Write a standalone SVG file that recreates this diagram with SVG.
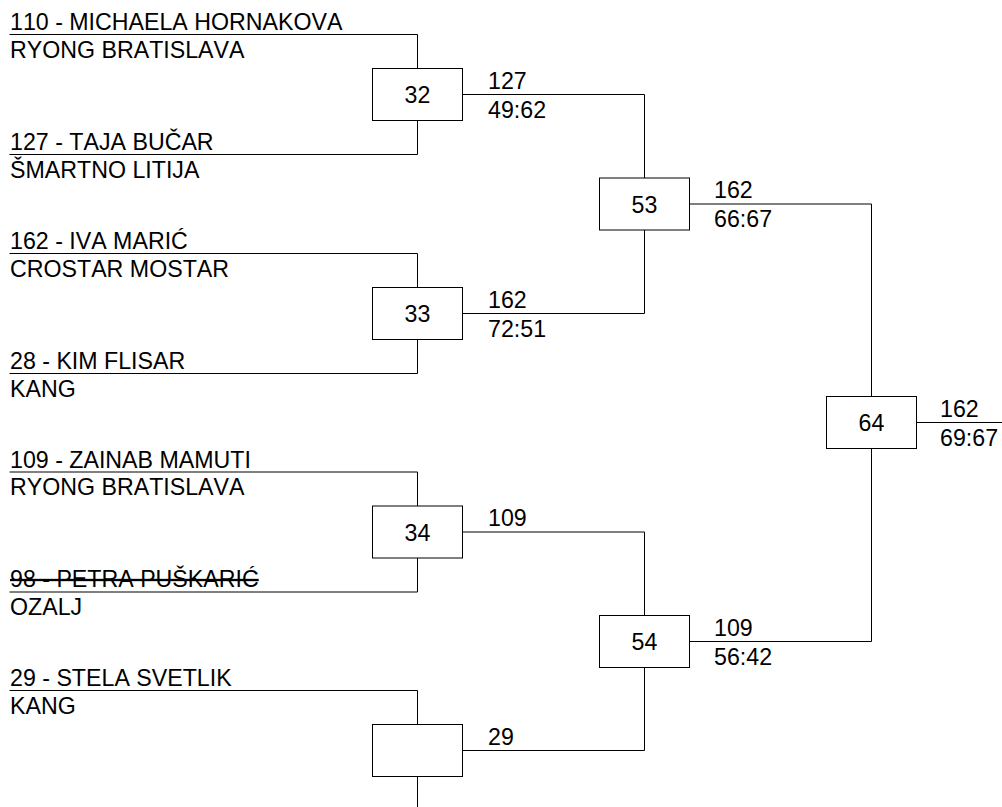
<svg xmlns="http://www.w3.org/2000/svg" width="1002" height="807" viewBox="0 0 1002 807">
<style>
text{font-family:"Liberation Sans",Arial,sans-serif;font-size:23.2px;fill:#000;font-kerning:none}
.num{text-anchor:middle}
.box{fill:#fff;stroke:#000;stroke-width:1}
.ln{fill:none;stroke:#000;stroke-width:1}
.strike{text-decoration:line-through}
</style>
<rect width="1002" height="807" fill="#fff"/>
<g id="connectors">
<path class="ln" d="M9.5 34.5H417.5V68.5M9.5 154.5H417.5V120.5"/>
<path class="ln" d="M9.5 253.5H417.5V287.5M9.5 373.5H417.5V339.5"/>
<path class="ln" d="M9.5 472H417.5V506M9.5 592H417.5V558"/>
<path class="ln" d="M9.5 690.5H417.5V724.5M417.5 776.5V810"/>
<path class="ln" d="M462.5 94.5H644.5V178M462.5 313.5H644.5V230"/>
<path class="ln" d="M462.5 532H644.5V615.5M462.5 750.5H644.5V667.5"/>
<path class="ln" d="M689.5 204H871.5V396.5M689.5 641.5H871.5V448.5"/>
<path class="ln" d="M916.5 422.5H1002"/>
</g>
<g id="entries">
<text x="10" y="30">110 - MICHAELA HORNAKOVA</text>
<text x="10" y="57.5">RYONG BRATISLAVA</text>
<text x="10" y="150">127 - TAJA BUČAR</text>
<text x="10" y="177.5">ŠMARTNO LITIJA</text>
<text x="10" y="249">162 - IVA MARIĆ</text>
<text x="10" y="276.5">CROSTAR MOSTAR</text>
<text x="10" y="369">28 - KIM FLISAR</text>
<text x="10" y="396.5">KANG</text>
<text x="10" y="467.5">109 - ZAINAB MAMUTI</text>
<text x="10" y="495">RYONG BRATISLAVA</text>
<text x="10" y="587" class="strike">98 - PETRA PUŠKARIĆ</text>
<text x="10" y="615">OZALJ</text>
<text x="10" y="686">29 - STELA SVETLIK</text>
<text x="10" y="713.5">KANG</text>
</g>
<g id="match32">
<rect class="box" x="372.5" y="68.5" width="90" height="52"/>
<text class="num" x="417.5" y="103">32</text>
<text x="488" y="88.5">127</text>
<text x="488" y="117.5">49:62</text>
</g>
<g id="match33">
<rect class="box" x="372.5" y="287.5" width="90" height="52"/>
<text class="num" x="417.5" y="322">33</text>
<text x="488" y="307.5">162</text>
<text x="488" y="336.5">72:51</text>
</g>
<g id="match34">
<rect class="box" x="372.5" y="506" width="90" height="52"/>
<text class="num" x="417.5" y="540.5">34</text>
<text x="488" y="526">109</text>
</g>
<g id="match35">
<rect class="box" x="372.5" y="724.5" width="90" height="52"/>
<text x="488" y="744.5">29</text>
</g>
<g id="match53">
<rect class="box" x="599.5" y="178" width="90" height="52"/>
<text class="num" x="644.5" y="212.5">53</text>
<text x="714" y="198">162</text>
<text x="714" y="227">66:67</text>
</g>
<g id="match54">
<rect class="box" x="599.5" y="615.5" width="90" height="52"/>
<text class="num" x="644.5" y="650">54</text>
<text x="714" y="635.5">109</text>
<text x="714" y="664.5">56:42</text>
</g>
<g id="match64">
<rect class="box" x="826.5" y="396.5" width="90" height="52"/>
<text class="num" x="871.5" y="431">64</text>
<text x="940" y="416.5">162</text>
<text x="940" y="445.5">69:67</text>
</g>
</svg>
